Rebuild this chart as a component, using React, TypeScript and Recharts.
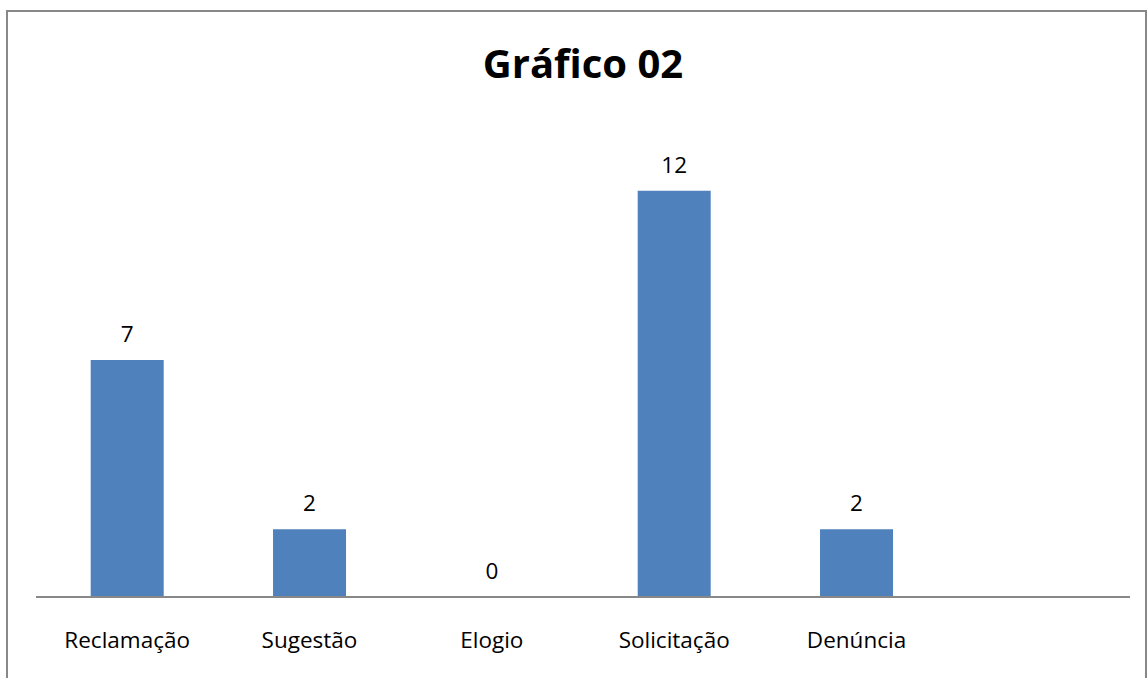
import { Bar, ComposedChart, LabelList, Line, XAxis, YAxis } from "recharts";

const categories = ["Reclamação", "Sugestão", "Elogio", "Solicitação", "Denúncia", ""];
const values: (number | null)[] = [7, 2, 0, 12, 2, null];

const data = categories.map((name, i) => ({ name, value: values[i] }));

const FONT = "'Open Sans', Calibri, sans-serif";

export default function App() {
  return (
    <div
      style={{
        position: "fixed",
        inset: 0,
        overflow: "hidden",
        background: "#fff",
        fontFamily: FONT,
      }}
    >
      <div
        style={{
          position: "absolute",
          left: 6,
          top: 10,
          width: 1137,
          height: 720,
          border: "2px solid #888",
        }}
      />
      <div
        style={{
          position: "absolute",
          left: 0,
          width: 1166,
          top: 35,
          textAlign: "center",
          fontWeight: 700,
          fontSize: 40,
          color: "#000",
        }}
      >
        Gráfico 02
      </div>
      <div style={{ position: "absolute", left: 0, top: 0 }}>
        <ComposedChart
          width={1147}
          height={678}
          data={data}
          margin={{ top: 123, right: 17, left: 36, bottom: 21 }}
          barCategoryGap="30%"
        >
          <YAxis hide domain={[0, 14]} />
          <XAxis
            dataKey="name"
            height={60}
            tickLine={false}
            axisLine={{ stroke: "#888", strokeWidth: 2 }}
            tick={{ fill: "#000", fontSize: 22.5, fontFamily: FONT }}
            tickMargin={29}
            interval={0}
          />
          <Bar dataKey="value" fill="#4F81BD" isAnimationActive={false} />
          <Line
            dataKey="value"
            stroke="none"
            dot={false}
            activeDot={false}
            isAnimationActive={false}
          >
            <LabelList
              dataKey="value"
              position="top"
              offset={18}
              fill="#000"
              style={{ fontSize: 22.5, fontFamily: FONT }}
            />
          </Line>
        </ComposedChart>
      </div>
    </div>
  );
}
